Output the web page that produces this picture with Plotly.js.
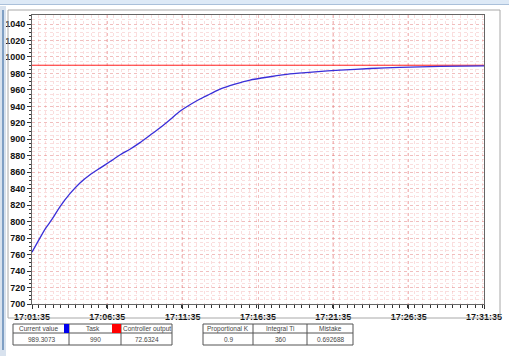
<!DOCTYPE html>
<html><head><meta charset="utf-8">
<script src="https://cdn.plot.ly/plotly-3.0.1.min.js"></script>
<style>html,body{margin:0;padding:0;background:#fff;}#c{width:509px;height:356px;}</style>
</head><body><div id="c"></div>
<script>
var day = '2024-01-01 ';
var times = ['17:01:35','17:01:59','17:02:27','17:02:55','17:03:26','17:04:06','17:04:46','17:05:26','17:06:06','17:06:46','17:07:25','17:08:05','17:08:45','17:09:25','17:10:05','17:10:45','17:11:24','17:12:04','17:12:44','17:13:24','17:14:04','17:15:03','17:16:03','17:17:23','17:18:42','17:20:22','17:22:02','17:24:01','17:26:00','17:28:40','17:31:35'];
var currentValue = [763,776,791,803,818,834,847,857,865,873,881,888,896,905,914,924,934,942,949,955,961,967,972,976,979.5,982,984,986,987.5,988.6,989.3];
var taskTimes = ['17:01:35','17:31:35'];
var taskValues = [990,990];
var table1Headers = ['Current value','Task','Controller output'];
var table1Values = ['989.3073','990','72.6324'];
var table2Headers = ['Proportional K','Integral Ti','Mistake'];
var table2Values = ['0.9','360','0.692688'];

var L=32, T=15, W=452, H=289;
function px(x){return (x-L)/W;}
function py(y){return (T+H-y)/H;}

var shapes = [];
var annotations = [];
function rect(x0,y0,x1,y1,line,fill){
  shapes.push({type:'rect',xref:'paper',yref:'paper',x0:px(x0),x1:px(x1),y0:py(y1),y1:py(y0),
    line:line||{width:0},fillcolor:fill||'rgba(0,0,0,0)',layer:'above'});
}
function hline(x0,x1,y,c,w){shapes.push({type:'line',xref:'paper',yref:'paper',x0:px(x0),x1:px(x1),y0:py(y),y1:py(y),line:{color:c,width:w||1},layer:'above'});}
function vline(x,y0,y1,c,w){shapes.push({type:'line',xref:'paper',yref:'paper',x0:px(x),x1:px(x),y0:py(y0),y1:py(y1),line:{color:c,width:w||1},layer:'above'});}
function txt(x,y,s){annotations.push({xref:'paper',yref:'paper',x:px(x),y:py(y),text:s,showarrow:false,xanchor:'center',yanchor:'middle',font:{family:'Liberation Sans, Arial',size:6.5,color:'#444'}});}

// window chrome
rect(0,0,509,4,null,'#dde9f6');
hline(0,509,4.5,'#aac0da',1);
rect(0,6,6,356,null,'#d8e2ee');
vline(3,10,350,'#7f9fc4',2);
rect(8,10,500,318,{color:'#a8a8a8',width:1});

// table 1
var t1x=[13,69,121,172], ty=[324,333,345];
rect(t1x[0],ty[0],t1x[3],ty[2],{color:'#555',width:1});
hline(t1x[0],t1x[3],ty[1],'#555');
vline(t1x[1],ty[0],ty[2],'#555');
vline(t1x[2],ty[0],ty[2],'#555');
rect(64,ty[0],69,ty[1],null,'#0000ee');
rect(112,ty[0],121,ty[1],null,'#ff0000');
txt(38,328.5,table1Headers[0]); txt(93,328.5,table1Headers[1]); txt(146.5,328.5,table1Headers[2]);
for(var i=0;i<3;i++){txt((t1x[i]+t1x[i+1])/2,339,table1Values[i]);}
// table 2
var t2x=[203,253,307,353];
rect(t2x[0],ty[0],t2x[3],ty[2],{color:'#555',width:1});
hline(t2x[0],t2x[3],ty[1],'#555');
vline(t2x[1],ty[0],ty[2],'#555');
vline(t2x[2],ty[0],ty[2],'#555');
for(var i=0;i<3;i++){txt((t2x[i]+t2x[i+1])/2,328.5,table2Headers[i]);txt((t2x[i]+t2x[i+1])/2,339,table2Values[i]);}

var data = [
 {x:taskTimes.map(function(t){return day+t;}), y:taskValues, type:'scatter', mode:'lines', line:{color:'#ff2020',width:1}, hoverinfo:'skip'},
 {x:times.map(function(t){return day+t;}), y:currentValue, type:'scatter', mode:'lines', line:{color:'#3a2fd8',width:1.3,shape:'spline',smoothing:0.6}, hoverinfo:'skip'}
];
var layout = {
 width:509, height:356, margin:{l:L,r:509-L-W,t:T,b:356-T-H},
 paper_bgcolor:'rgba(0,0,0,0)', plot_bgcolor:'#fff', showlegend:false,
 xaxis:{type:'date', range:[day+'17:01:35', day+'17:31:35'], tick0:day+'17:01:35', dtick:300000, tickformat:'%H:%M:%S',
   ticks:'outside', ticklen:4, tickcolor:'#333', showline:true, linecolor:'#666', mirror:true,
   showgrid:true, gridcolor:'rgba(225,110,110,0.45)', griddash:'dot', gridwidth:1, zeroline:false,
   minor:{dtick:30000, ticks:'outside', ticklen:3, tickcolor:'#333', showgrid:true, gridcolor:'rgba(240,160,160,0.35)', griddash:'dot', gridwidth:1},
   tickfont:{family:'Liberation Sans, Arial', size:9, color:'#111', weight:'bold'}},
 yaxis:{range:[700,1051], tick0:700, dtick:20, ticks:'outside', ticklen:4, tickcolor:'#333', showline:true, linecolor:'#666', mirror:true,
   showgrid:true, gridcolor:'rgba(225,110,110,0.45)', griddash:'dot', gridwidth:1, zeroline:false,
   minor:{dtick:5, ticks:'outside', ticklen:2, tickcolor:'#333', showgrid:true, gridcolor:'rgba(240,160,160,0.35)', griddash:'dot', gridwidth:1},
   tickfont:{family:'Liberation Sans, Arial', size:9, color:'#111', weight:'bold'}},
 shapes:shapes, annotations:annotations
};
Plotly.newPlot('c', data, layout, {displayModeBar:false, staticPlot:true});
</script></body></html>
